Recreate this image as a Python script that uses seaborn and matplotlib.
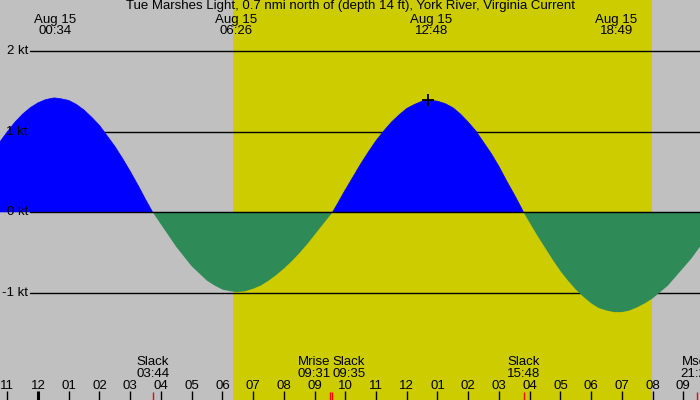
import matplotlib
matplotlib.use("Agg")
import matplotlib.pyplot as plt
import matplotlib.transforms as mtransforms
import pandas as pd
import seaborn as sns

# tidal current, hours since midnight Aug 15
hours = [-1.5, -1.25, -1.0, -0.75, -0.5, -0.25, 0.0, 0.25, 0.5, 0.567,
         0.75, 1.0, 1.25, 1.5, 1.75, 2.0, 2.25, 2.5, 2.75, 3.0, 3.25, 3.5, 3.733,
         4.0, 4.25, 4.5, 4.75, 5.0, 5.25, 5.5, 5.75, 6.0, 6.25, 6.433,
         6.5, 6.75, 7.0, 7.25, 7.5, 7.75, 8.0, 8.25, 8.5, 8.75, 9.0, 9.25, 9.5, 9.583,
         9.75, 10.0, 10.25, 10.5, 10.75, 11.0, 11.25, 11.5, 11.75, 12.0, 12.25, 12.5, 12.75, 12.8,
         13.0, 13.25, 13.5, 13.75, 14.0, 14.25, 14.5, 14.75, 15.0, 15.25, 15.5, 15.75, 15.8,
         16.0, 16.25, 16.5, 16.75, 17.0, 17.25, 17.5, 17.75, 18.0, 18.25, 18.5, 18.75, 18.817,
         19.0, 19.25, 19.5, 19.75, 20.0, 20.25, 20.5, 20.75, 21.0, 21.25, 21.5, 21.75, 22.0]
speed = [0.72, 0.87, 1.00, 1.12, 1.22, 1.30, 1.36, 1.40, 1.42, 1.42,
         1.41, 1.39, 1.34, 1.27, 1.18, 1.08, 0.95, 0.82, 0.67, 0.51, 0.34, 0.16, 0.0,
         -0.15, -0.29, -0.43, -0.55, -0.67, -0.76, -0.85, -0.91, -0.96, -0.98, -0.99,
         -0.99, -0.98, -0.95, -0.91, -0.85, -0.78, -0.70, -0.61, -0.51, -0.40, -0.28, -0.16, -0.04, 0.0,
         0.11, 0.28, 0.44, 0.60, 0.75, 0.89, 1.01, 1.12, 1.21, 1.29, 1.34, 1.38, 1.39, 1.39,
         1.38, 1.35, 1.30, 1.22, 1.12, 1.01, 0.87, 0.73, 0.57, 0.39, 0.22, 0.04, 0.0,
         -0.13, -0.29, -0.44, -0.59, -0.73, -0.85, -0.96, -1.05, -1.13, -1.19, -1.22, -1.24, -1.24,
         -1.24, -1.22, -1.18, -1.13, -1.07, -0.99, -0.91, -0.80, -0.69, -0.58, -0.45, -0.32, -0.18]

title = "Tue Marshes Light, 0.7 nmi north of (depth 14 ft), York River, Virginia Current"

peak_hours = [0.567, 6.433, 12.8, 18.817]
peak_labels = ["00:34", "06:26", "12:48", "18:49"]
peak_date = "Aug 15"

event_names = ["Slack", "Mrise", "Slack", "Slack", "Mset"]
event_hours = [3.733, 9.517, 9.583, 15.8, 21.43]
event_labels = ["03:44", "09:31", "09:35", "15:48", "21:26"]
event_align = ["center", "right", "left", "center", "center"]

tick_hours = list(range(-1, 22))
tick_labels = ["11", "12", "01", "02", "03", "04", "05", "06", "07", "08", "09", "10", "11",
               "12", "01", "02", "03", "04", "05", "06", "07", "08", "09"]

level_values = [2, 1, 0, -1]
level_labels = ["2 kt", "1 kt", "0 kt", "-1 kt"]

sunrise, sunset = 6.36, 19.98
now_hour, now_speed = 12.68, 1.39

sns.set_theme(style="white", rc={"axes.facecolor": "#C0C0C0", "figure.facecolor": "#C0C0C0",
                                 "text.color": "black"})
plt.rcParams["font.family"] = ["Liberation Sans", "DejaVu Sans"]
fs = 9.5

df = pd.DataFrame({"hour": hours, "speed": speed})
df["flood"] = df["speed"].clip(lower=0)
df["ebb"] = df["speed"].clip(upper=0)

fig = plt.figure(figsize=(7, 4), dpi=100)
ax = fig.add_axes([0, 0, 1, 1])
ax.set_xlim(-38 / 30.73, 662 / 30.73)
ax.set_ylim(-187.7 / 80.5, 212.3 / 80.5)
ax.axis("off")
ax.add_patch(plt.Rectangle((0, 0), 1, 1, transform=ax.transAxes, color="#C0C0C0", zorder=0))

ax.axvspan(sunrise, sunset, color="#CCCC00", lw=0, zorder=1)

bt = mtransforms.blended_transform_factory(ax.transAxes, ax.transData)
for v, lab in zip(level_values, level_labels):
    ax.plot([30 / 700, 1], [v, v], color="black", lw=1.0, transform=bt, zorder=2 if v != 0 else 4)
    ax.text(28 / 700, v, lab, transform=bt, ha="right", va="center", fontsize=fs, zorder=5)

ax.fill_between(df["hour"], 0, df["flood"], color="#0000FF", lw=0, zorder=3)
ax.fill_between(df["hour"], 0, df["ebb"], color="#2E8B57", lw=0, zorder=3)
sns.lineplot(data=df, x="hour", y="flood", ax=ax, color="#0000FF", lw=0.5, zorder=3)

ax.plot([now_hour], [now_speed], marker="+", ms=9, mew=1.3, color="black", zorder=6)

tx = mtransforms.blended_transform_factory(ax.transData, ax.transAxes)
ax.text(0.5, 1 - 6.5 / 400, title, transform=ax.transAxes, ha="center", va="center", fontsize=fs)
for h, lab in zip(peak_hours, peak_labels):
    ax.text(h, 1 - 20 / 400, peak_date, transform=tx, ha="center", va="center", fontsize=fs)
    ax.text(h, 1 - 31.5 / 400, lab, transform=tx, ha="center", va="center", fontsize=fs)

for h, lab in zip(tick_hours, tick_labels):
    ax.plot([h, h], [0, 9 / 400], color="black", lw=2.2 if h == 0 else 1.0, transform=tx, zorder=5,
            solid_capstyle="butt")
    ax.text(h, 14 / 400, lab, transform=tx, ha="center", va="center", fontsize=fs)

for name, h, lab, ha in zip(event_names, event_hours, event_labels, event_align):
    ax.plot([h, h], [0, 8 / 400], color="red", lw=1.0, transform=tx, zorder=6, solid_capstyle="butt")
    ax.text(h, 38 / 400, name, transform=tx, ha=ha, va="center", fontsize=fs)
    ax.text(h, 26 / 400, lab, transform=tx, ha=ha, va="center", fontsize=fs)

fig.savefig("out.png", dpi=100, facecolor="#C0C0C0")
